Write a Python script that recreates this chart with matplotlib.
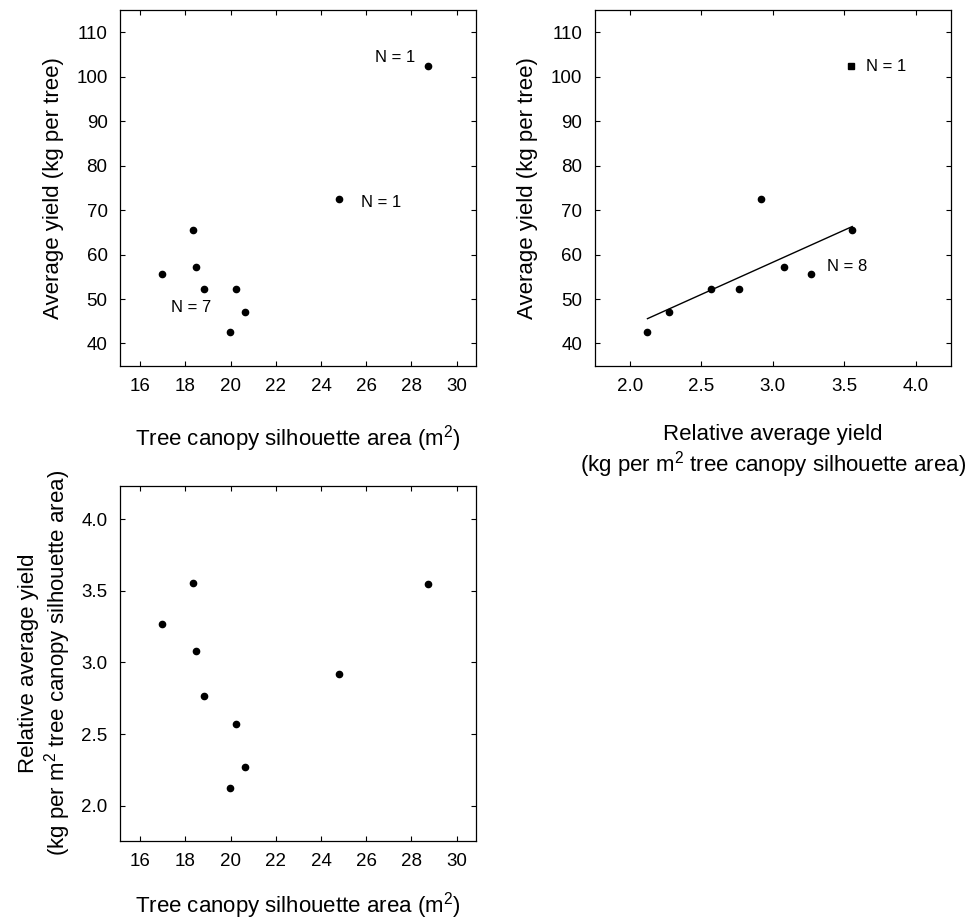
import numpy as np
import matplotlib
matplotlib.use("Agg")
from matplotlib import pyplot as plt

plt.rcParams['font.family'] = ['Liberation Sans', 'DejaVu Sans']
plt.rcParams['mathtext.fontset'] = 'custom'
plt.rcParams['mathtext.rm'] = 'Liberation Sans'
plt.rcParams['mathtext.default'] = 'regular'

# canopy area (m2), average yield (kg per tree), relative yield (kg per m2)
area = [16.96, 18.35, 18.48, 18.82, 20.22, 20.62, 19.97, 24.79, 28.74]
yield_avg = [55.65, 65.5, 57.2, 52.2, 52.2, 47.1, 42.6, 72.6, 102.3]
rel_yield = [3.266, 3.556, 3.082, 2.763, 2.568, 2.272, 2.124, 2.919, 3.549]

# the last tree is kept out of the regression (drawn as a square)
fit_idx = list(range(8))
out_idx = 8

area_ticks = [16, 18, 20, 22, 24, 26, 28, 30]
yield_ticks = [40, 50, 60, 70, 80, 90, 100, 110]
rel_ticks = [2.0, 2.5, 3.0, 3.5, 4.0]

area_label = 'Tree canopy silhouette area (m$^2$)'
yield_label = 'Average yield (kg per tree)'
rel_label = 'Relative average yield\n(kg per m$^2$ tree canopy silhouette area)'

W, H = 969, 922
fig = plt.figure(figsize=(W / 100, H / 100), dpi=100)


def make_ax(x0, y0, x1, y1):
    ax = fig.add_axes([x0 / W, 1 - y1 / H, (x1 - x0) / W, (y1 - y0) / H])
    ax.tick_params(direction='in', top=True, right=True, length=3.5,
                   width=0.8, labelsize=13.5, pad=9)
    for s in ax.spines.values():
        s.set_linewidth(0.9)
    return ax


ms = 4.5
fs = 16

# area vs yield
ax1 = make_ax(120, 10, 475.7, 365.7)
ax1.plot(area, yield_avg, 'o', color='black', ms=ms, ls='none')
ax1.set_xlim(15.1, 30.85)
ax1.set_ylim(35, 115)
ax1.set_xticks(area_ticks)
ax1.set_yticks(yield_ticks)
ax1.set_xlabel(area_label, fontsize=fs, labelpad=20)
ax1.set_ylabel(yield_label, fontsize=fs, labelpad=9)
ax1.text(27.27, 104.3, 'N = 1', fontsize=12, ha='center', va='center')
ax1.text(26.68, 71.6, 'N = 1', fontsize=12, ha='center', va='center')
ax1.text(18.23, 48.0, 'N = 7', fontsize=12, ha='center', va='center')

# relative yield vs yield, with regression line
ax2 = make_ax(594.7, 10, 950.7, 365.7)
rx = np.array([rel_yield[i] for i in fit_idx])
ry = np.array([yield_avg[i] for i in fit_idx])
ax2.plot(rx, ry, 'o', color='black', ms=ms, ls='none')
ax2.plot(rel_yield[out_idx], yield_avg[out_idx], 's', color='black', ms=ms)
b, a = np.polyfit(rx, ry, 1)
xl = np.array([rx.min(), rx.max()])
ax2.plot(xl, a + b * xl, color='black', lw=1.0)
ax2.set_xlim(1.755, 4.245)
ax2.set_ylim(35, 115)
ax2.set_xticks(rel_ticks)
ax2.set_xticklabels(['%.1f' % t for t in rel_ticks])
ax2.set_yticks(yield_ticks)
ax2.set_xlabel(rel_label, fontsize=fs, labelpad=21, linespacing=1.15)
ax2.set_ylabel(yield_label, fontsize=fs, labelpad=9)
ax2.text(3.79, 102.2, 'N = 1', fontsize=12, ha='center', va='center')
ax2.text(3.518, 57.4, 'N = 8', fontsize=12, ha='center', va='center')

# area vs relative yield
ax3 = make_ax(120, 485.7, 475.7, 840.7)
ax3.plot(area, rel_yield, 'o', color='black', ms=ms, ls='none')
ax3.set_xlim(15.1, 30.85)
ax3.set_ylim(1.755, 4.235)
ax3.set_xticks(area_ticks)
ax3.set_yticks(rel_ticks)
ax3.set_yticklabels(['%.1f' % t for t in rel_ticks])
ax3.set_xlabel(area_label, fontsize=fs, labelpad=14)
ax3.set_ylabel(rel_label, fontsize=fs, labelpad=6, linespacing=1.15)

fig.savefig('out.png', dpi=100)
